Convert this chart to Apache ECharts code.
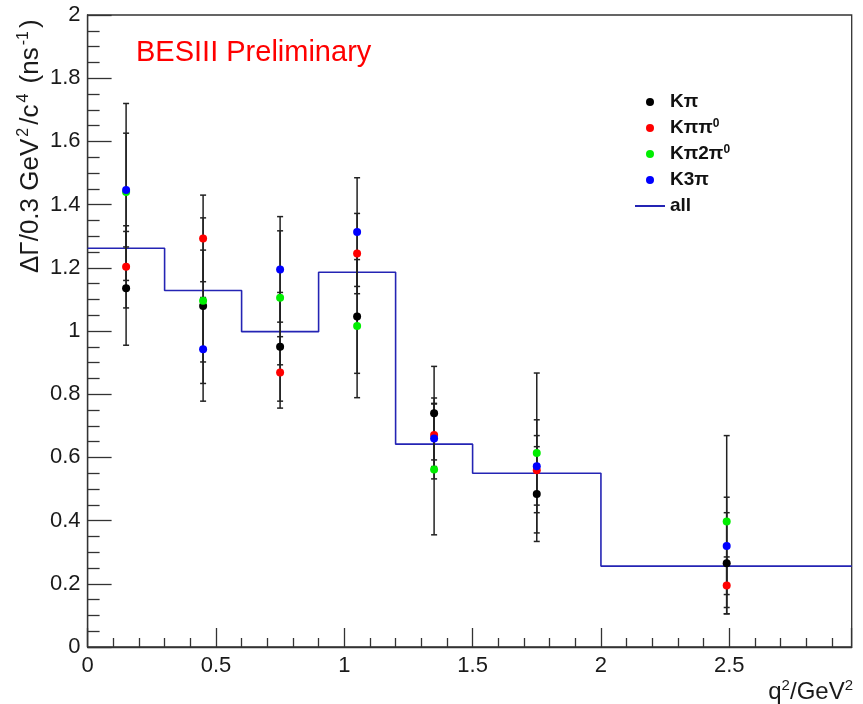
<!DOCTYPE html>
<html>
<head>
<meta charset="utf-8">
<script src="https://cdn.jsdelivr.net/npm/echarts@6/dist/echarts.min.js"></script>
<style>
  html, body { margin: 0; padding: 0; background: #fff; }
  #chart { width: 863px; height: 704px; }
</style>
</head>
<body>
<div id="chart"></div>
<script>
// q^2 bin centres (GeV^2) where the tag-mode measurements are plotted
const binCenters = [0.15, 0.45, 0.75, 1.05, 1.35, 1.75, 2.49];

// Partial widths per tag mode, with their uncertainties
const kpiVal     = [1.135, 1.079, 0.950, 1.046, 0.740, 0.484, 0.265];
const kpiErr     = [0.180, 0.177, 0.172, 0.180, 0.148, 0.150, 0.160];
const kpipi0Val  = [1.203, 1.293, 0.869, 1.245, 0.671, 0.559, 0.195];
const kpipi0Err  = [0.130, 0.137, 0.113, 0.127, 0.100, 0.110, 0.090];
const kpi2pi0Val = [1.440, 1.096, 1.105, 1.016, 0.562, 0.614, 0.397];
const kpi2pi0Err = [0.280, 0.262, 0.212, 0.227, 0.207, 0.253, 0.272];
const k3piVal    = [1.446, 0.942, 1.195, 1.313, 0.660, 0.572, 0.320];
const k3piErr    = [0.180, 0.164, 0.167, 0.172, 0.128, 0.147, 0.154];

// Combined result ("all") as a histogram over the q^2 bins
const binEdges = [0, 0.3, 0.6, 0.9, 1.2, 1.5, 2.0, 2.977];
const allVal   = [1.262, 1.128, 0.998, 1.186, 0.642, 0.550, 0.256];

const modeNames  = ['Kπ', 'Kππ0', 'Kπ2π0', 'K3π'];
const modeColors = ['#000000', '#ff0000', '#00ee00', '#0000ff'];
const modeVals   = [kpiVal, kpipi0Val, kpi2pi0Val, k3piVal];
const modeErrs   = [kpiErr, kpipi0Err, kpi2pi0Err, k3piErr];

const FONT = '"Liberation Sans", Arial, Helvetica, sans-serif';

// histogram outline: one point per lower bin edge, plus the final upper edge
const stepData = allVal.map((v, i) => [binEdges[i], v]);
stepData.push([binEdges[binEdges.length - 1], allVal[allVal.length - 1]]);

function errorBarItem(params, api) {
  const x = api.value(0), v = api.value(1), e = api.value(2);
  const top = api.coord([x, v + e]);
  const bot = api.coord([x, v - e]);
  const cap = 3;
  const style = { stroke: '#222', lineWidth: 1.5 };
  return {
    type: 'group',
    children: [
      { type: 'line', shape: { x1: top[0], y1: top[1], x2: bot[0], y2: bot[1] }, style },
      { type: 'line', shape: { x1: top[0] - cap, y1: top[1], x2: top[0] + cap, y2: top[1] }, style },
      { type: 'line', shape: { x1: bot[0] - cap, y1: bot[1], x2: bot[0] + cap, y2: bot[1] }, style }
    ]
  };
}

const series = [{
  name: 'all',
  type: 'line',
  step: 'end',
  data: stepData,
  symbol: 'none',
  lineStyle: { color: '#2424b4', width: 1.6 },
  itemStyle: { color: '#2424b4' },
  z: 1,
  animation: false
}];

modeNames.forEach((name, m) => {
  series.push({
    name: name + ' errors',
    type: 'custom',
    renderItem: errorBarItem,
    data: binCenters.map((x, i) => [x, modeVals[m][i], modeErrs[m][i]]),
    z: 2,
    animation: false
  });
});

modeNames.forEach((name, m) => {
  series.push({
    name: name,
    type: 'scatter',
    data: binCenters.map((x, i) => [x, modeVals[m][i]]),
    symbol: 'circle',
    symbolSize: 8,
    itemStyle: { color: modeColors[m], opacity: 1 },
    z: 3 + m,
    animation: false
  });
});

const legendLabels = {
  'Kπ': '{b|Kπ}',
  'Kππ0': '{b|Kππ}{s|0}',
  'Kπ2π0': '{b|Kπ2π}{s|0}',
  'K3π': '{b|K3π}',
  'all': '{b|all}'
};

const chart = echarts.init(document.getElementById('chart'), null, { renderer: 'canvas' });

chart.setOption({
  animation: false,
  backgroundColor: '#fff',
  grid: {
    left: 87.6, right: 11.3, top: 15, bottom: 57,
    show: true, borderColor: '#333', borderWidth: 1.3,
    backgroundColor: 'transparent'
  },
  xAxis: {
    type: 'value',
    min: 0, max: 2.977, interval: 0.5,
    axisLine: { show: true, onZero: false, lineStyle: { color: '#333', width: 1.3 } },
    axisTick: { show: true, inside: true, length: 19, lineStyle: { color: '#333', width: 1.3 } },
    minorTick: { show: true, splitNumber: 5, length: 9, lineStyle: { color: '#333', width: 1.3 } },
    splitLine: { show: false },
    axisLabel: {
      showMaxLabel: false, margin: 8,
      color: '#1a1a1a', fontSize: 22, fontFamily: FONT
    }
  },
  yAxis: {
    type: 'value',
    min: 0, max: 2, interval: 0.2,
    axisLine: { show: true, onZero: false, lineStyle: { color: '#333', width: 1.3 } },
    axisTick: { show: true, inside: true, length: 24, lineStyle: { color: '#333', width: 1.3 } },
    minorTick: { show: true, splitNumber: 4, length: 12, lineStyle: { color: '#333', width: 1.3 } },
    splitLine: { show: false },
    axisLabel: {
      margin: 7,
      color: '#1a1a1a', fontSize: 22, fontFamily: FONT
    }
  },
  legend: {
    orient: 'vertical',
    left: 634, top: 92,
    padding: 0,
    itemGap: 6,
    itemWidth: 30, itemHeight: 8,
    data: ['Kπ', 'Kππ0', 'Kπ2π0', 'K3π', { name: 'all', itemStyle: { opacity: 0 } }],
    selectedMode: false,
    formatter: name => legendLabels[name],
    textStyle: {
      lineHeight: 20,
      rich: {
        b: { fontSize: 19, fontWeight: 'bold', fontFamily: FONT, color: '#111', lineHeight: 20 },
        s: { fontSize: 12, fontWeight: 'bold', fontFamily: FONT, color: '#111', verticalAlign: 'top', lineHeight: 12 }
      }
    }
  },
  graphic: [
    {
      type: 'text',
      left: 136, top: 38,
      style: { text: 'BESIII Preliminary', fill: '#ff0000', font: '29px ' + FONT }
    },
    {
      type: 'text',
      x: 44, y: 273,
      rotation: Math.PI / 2,
      style: {
        text: '{m|ΔΓ/0.3 GeV}{s|2}{m|/c}{s|4}{m| (ns}{s|-1}{m|)}',
        align: 'left', verticalAlign: 'bottom',
        rich: {
          m: { fontSize: 26, fontFamily: FONT, fill: '#1a1a1a', lineHeight: 28, verticalAlign: 'bottom' },
          s: { fontSize: 16, fontFamily: FONT, fill: '#1a1a1a', lineHeight: 16, verticalAlign: 'top', padding: [0, 3, 0, 2] }
        }
      }
    },
    {
      type: 'text',
      x: 853, y: 704,
      style: {
        text: '{m|q}{s|2}{m|/GeV}{s|2}',
        align: 'right', verticalAlign: 'bottom',
        rich: {
          m: { fontSize: 24, fontFamily: FONT, fill: '#1a1a1a', lineHeight: 26, verticalAlign: 'bottom' },
          s: { fontSize: 15, fontFamily: FONT, fill: '#1a1a1a', lineHeight: 15, verticalAlign: 'top' }
        }
      }
    }
  ],
  series: series
});
</script>
</body>
</html>
